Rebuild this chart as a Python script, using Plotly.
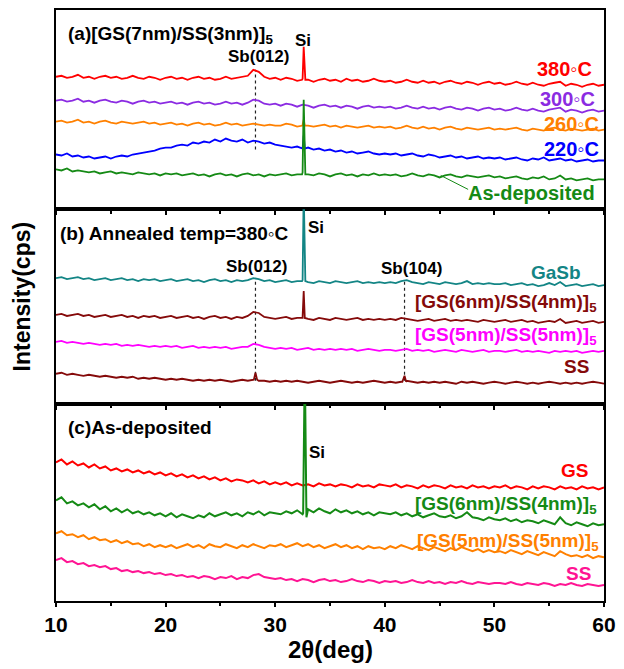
import plotly.graph_objects as go
from plotly.subplots import make_subplots

# 2-theta sampling grid (deg)
TWO_THETA = [10 + 0.5 * i for i in range(101)]

# ---------------- Panel (a): [GS(7nm)/SS(3nm)]5 at several anneal temps ----------------
a_380 = [133,134,132,133,135,132,133,131,133,134,132,133,131,132,134,132,131,133,132,130,132,
         133,131,132,130,132,133,131,132,130,131,133,131,132,133,134,140,138,133,131,132,
         130,132,131,129,131,130,128,130,131,129,130,128,131,129,130,128,129,131,129,128,
         129,127,128,130,128,127,129,127,128,126,128,129,127,126,128,127,125,127,128,126,
         127,125,126,128,126,125,127,125,124,126,127,128,124,126,125,123,125,126,124,125]
a_380_pk_x = [32.45, 32.6, 32.75]
a_380_pk_y = [130, 163, 130]

a_300 = [109,110,108,109,111,108,109,107,109,110,108,107,109,108,106,108,109,107,108,106,107,
         108,106,107,105,107,108,106,107,105,106,108,106,107,105,107,110,109,106,105,106,
         104,106,105,103,105,104,102,104,105,103,104,102,104,103,101,103,104,102,103,102,
         103,101,102,104,102,101,103,101,102,100,102,103,101,100,102,101,99,101,102,100,
         101,99,100,102,100,99,101,99,98,100,101,102,98,100,99,97,99,100,98,99]
a_300_pk_x = []
a_300_pk_y = []

a_260 = [88,89,87,88,90,87,88,86,88,89,87,86,88,87,86,87,88,86,87,85,86,
         87,85,86,84,86,87,85,86,84,85,87,85,86,84,85,86,85,84,85,84,
         84,86,85,83,85,84,83,84,85,83,84,82,84,83,82,83,84,82,83,82,
         83,81,82,84,82,81,83,81,82,80,82,83,81,80,82,81,80,81,82,80,
         81,80,81,82,80,79,81,80,79,81,82,80,79,81,80,79,80,81,79,80]
a_260_pk_x = [32.5, 32.6, 32.7]
a_260_pk_y = [84, 90, 84]

a_220 = [55,54,56,53,54,52,53,51,52,53,51,53,54,53,55,56,57,58,59,61,62,
         62,64,65,64,67,66,68,67,70,68,71,69,68,70,67,69,68,66,67,65,
         64,63,62,63,61,62,60,61,59,60,58,59,57,58,56,57,58,56,55,56,
         55,56,54,55,56,54,53,55,54,52,53,54,52,53,51,52,53,51,52,51,
         52,50,51,52,50,49,51,50,52,49,50,51,49,50,48,49,50,48,49,49]
a_220_pk_x = [32.5, 32.6, 32.7]
a_220_pk_y = [61, 74, 61]

a_asdep = [40,39,41,38,39,38,37,38,36,37,38,36,37,36,35,37,36,35,36,34,36,
           35,36,34,35,36,34,35,33,35,36,34,35,33,35,36,34,35,33,35,34,
           35,36,34,35,37,35,34,36,35,33,35,36,34,35,33,35,34,36,34,35,
           34,35,33,34,36,34,33,35,34,32,34,35,33,32,34,33,32,33,34,32,
           33,31,32,33,31,30,32,31,33,30,31,34,30,31,29,30,31,29,30,30]
a_asdep_pk_x = [32.45, 32.6, 32.75]
a_asdep_pk_y = [35, 110, 35]

# ---------------- Panel (b): annealed at 380 C ----------------
b_gasb = [126,127,125,126,127,125,126,124,125,126,124,125,126,124,125,123,125,124,125,123,124,
          125,123,124,125,123,124,122,124,125,123,124,122,124,123,124,126,125,123,124,122,
          123,124,122,123,124,122,121,123,122,121,123,122,121,122,123,121,122,121,122,121,
          122,121,123,124,122,121,120,122,121,120,122,121,120,121,123,120,121,120,121,120,
          120,121,119,120,121,119,120,118,119,121,119,122,118,119,120,118,119,120,118,119]
b_gasb_pk_x = [32.45, 32.6, 32.75]
b_gasb_pk_y = [123, 215, 123]

b_64 = [89,90,88,89,90,88,89,87,88,89,87,88,89,87,88,86,88,87,88,86,87,
        88,86,87,88,86,87,85,87,88,86,87,85,87,86,88,92,91,87,86,85,
        86,87,85,86,87,85,84,86,85,84,86,85,84,85,86,84,85,84,85,84,
        85,84,86,85,84,83,84,85,83,84,85,83,84,83,84,83,82,84,83,82,
        83,84,82,83,84,82,83,81,82,83,82,85,81,82,83,81,82,83,81,82]
b_64_pk_x = [32.5, 32.6, 32.7]
b_64_pk_y = [86, 113, 86]

b_55 = [62,63,61,62,61,60,61,60,59,60,59,60,58,59,58,59,58,57,58,57,58,
        57,58,56,57,58,56,57,56,57,56,57,55,56,57,57,60,59,57,56,55,
        56,55,56,54,55,56,54,55,54,55,54,55,54,55,53,54,55,54,53,54,
        54,53,54,55,53,54,53,54,52,53,54,53,52,54,53,52,53,54,52,53,
        53,52,53,54,52,53,52,53,52,51,53,52,53,52,53,51,52,53,52,53]
b_55_pk_x = []
b_55_pk_y = []

b_ss = [30,31,29,30,29,28,29,28,27,28,27,26,27,26,27,25,26,25,26,25,24,
        25,24,25,24,23,24,23,24,23,24,23,22,23,24,23,24,23,23,22,23,
        22,23,22,23,22,21,22,23,22,21,22,23,22,21,22,21,22,23,22,21,
        22,21,22,23,22,21,22,21,22,21,22,21,20,22,21,22,21,20,21,22,
        21,20,21,22,21,20,21,20,21,22,21,20,21,20,21,20,21,22,21,20]
b_ss_pk_x = [28.05, 28.2, 28.35, 41.6, 41.8, 41.95]
b_ss_pk_y = [24, 31, 24, 22, 28, 22]

# ---------------- Panel (c): as-deposited ----------------
c_gs = [139,142,137,140,136,138,134,137,133,135,131,133,130,132,129,131,128,130,127,129,126,
        128,125,127,124,126,123,125,122,124,121,123,120,122,121,119,121,118,120,117,119,
        117,119,116,118,116,117,115,118,116,117,115,117,116,114,117,115,116,114,117,116,
        115,117,114,116,115,113,116,114,116,115,113,116,114,115,113,116,114,115,113,115,
        114,116,113,115,114,112,115,113,115,114,112,115,113,114,112,115,113,114,112,114]
c_gs_pk_x = []
c_gs_pk_y = []

c_64 = [101,104,98,100,96,98,94,97,92,95,90,93,89,92,88,90,87,89,86,88,85,
        88,84,87,85,83,86,84,88,85,87,89,86,88,85,89,87,90,86,89,88,
        87,90,88,91,87,92,89,93,90,88,92,89,91,88,90,87,89,86,89,88,
        87,89,86,88,85,87,84,86,88,85,84,86,83,85,89,84,83,81,84,82,
        81,83,80,82,79,81,80,78,81,79,77,84,78,76,79,77,75,78,76,77]
c_64_pk_x = [32.55, 32.7, 32.85]
c_64_pk_y = [88, 240, 84]

c_55 = [68,70,66,67,64,66,62,64,61,62,59,61,58,60,57,58,55,57,54,56,54,
        56,53,55,57,54,56,53,57,55,54,57,55,53,56,54,57,55,53,56,55,
        57,54,56,58,55,57,54,56,53,55,57,54,56,53,55,52,55,53,54,52,
        55,53,56,54,52,55,53,51,54,52,50,53,51,54,52,50,52,49,51,49,
        50,48,51,49,47,50,48,46,49,47,45,50,47,45,46,44,46,43,45,44]
c_55_pk_x = []
c_55_pk_y = []

c_ss = [41,43,39,40,37,38,35,36,34,35,32,33,30,31,29,30,28,29,27,28,26,
        27,25,26,24,25,23,25,24,22,24,23,25,22,24,23,26,27,24,23,22,
        23,21,22,20,22,21,19,21,22,20,21,19,20,22,20,19,21,20,18,20,
        19,20,18,19,21,19,18,20,18,19,17,19,18,20,18,17,19,18,17,18,
        18,17,19,17,16,18,17,16,18,17,15,17,16,18,16,15,17,16,15,16]
c_ss_pk_x = []
c_ss_pk_y = []

# reflection positions (deg) and dotted guide spans
SB012 = 28.2
SB104 = 41.8
guide_a_y = [60, 140]
guide_b_y = [23, 125]

FONT = "Liberation Sans, Arial, sans-serif"
RED, PURPLE, ORANGE, BLUE, GREEN = "#FF0000", "#8B2BE2", "#FF8000", "#0000FF", "#158A15"
TEAL, DKRED, MAGENTA, PINK = "#138585", "#850A0A", "#FF00FF", "#FF1493"

traces = [
    (1, a_380, a_380_pk_x, a_380_pk_y, RED),
    (1, a_300, a_300_pk_x, a_300_pk_y, PURPLE),
    (1, a_260, a_260_pk_x, a_260_pk_y, ORANGE),
    (1, a_220, a_220_pk_x, a_220_pk_y, BLUE),
    (1, a_asdep, a_asdep_pk_x, a_asdep_pk_y, GREEN),
    (2, b_gasb, b_gasb_pk_x, b_gasb_pk_y, TEAL),
    (2, b_64, b_64_pk_x, b_64_pk_y, DKRED),
    (2, b_55, b_55_pk_x, b_55_pk_y, MAGENTA),
    (2, b_ss, b_ss_pk_x, b_ss_pk_y, DKRED),
    (3, c_gs, c_gs_pk_x, c_gs_pk_y, RED),
    (3, c_64, c_64_pk_x, c_64_pk_y, GREEN),
    (3, c_55, c_55_pk_x, c_55_pk_y, ORANGE),
    (3, c_ss, c_ss_pk_x, c_ss_pk_y, PINK),
]


def merged(vals, px, py):
    pts = sorted(list(zip(TWO_THETA, vals)) + list(zip(px, py)))
    return [p[0] for p in pts], [p[1] for p in pts]


fig = make_subplots(rows=3, cols=1, shared_xaxes=True, vertical_spacing=0)

# dotted guides
for row, xv, ys in [(1, SB012, guide_a_y), (2, SB012, guide_b_y), (2, SB104, guide_b_y)]:
    fig.add_trace(go.Scatter(x=[xv, xv], y=ys, mode="lines",
                             line=dict(color="#222222", width=1.2, dash="dot"),
                             hoverinfo="skip", showlegend=False), row=row, col=1)

for row, vals, px, py, col in traces:
    xs, ys = merged(vals, px, py)
    fig.add_trace(go.Scatter(x=xs, y=ys, mode="lines",
                             line=dict(color=col, width=1.8 if row < 3 else 2.0),
                             showlegend=False), row=row, col=1)

# connector for "As-deposited" label
fig.add_trace(go.Scatter(x=[45.1, 47.6], y=[34, 20], mode="lines",
                         line=dict(color=GREEN, width=1), showlegend=False), row=1, col=1)

H = 593.0
domains = {1: [393 / H, 1.0], 2: [198 / H, 393 / H], 3: [0.0, 198 / H]}
yranges = {1: [0, 200], 2: [0, 195], 3: [0, 198]}
for r in (1, 2, 3):
    sfx = "" if r == 1 else str(r)
    fig.layout["yaxis" + sfx].update(domain=domains[r], range=yranges[r], showline=True,
                                     linecolor="black", linewidth=2, mirror=True,
                                     showticklabels=False, ticks="", showgrid=False,
                                     zeroline=False, fixedrange=True)
    fig.layout["xaxis" + sfx].update(range=[10, 60], showline=True, linecolor="black",
                                     linewidth=2, mirror=True, ticks="outside", ticklen=4,
                                     tickwidth=2, tickcolor="black", tick0=10, dtick=10,
                                     minor=dict(dtick=5, ticks="outside", ticklen=2.5,
                                                tickwidth=2, tickcolor="black"),
                                     showgrid=False, zeroline=False,
                                     showticklabels=(r == 3),
                                     tickfont=dict(family=FONT, size=21, color="black",
                                                   weight="bold"))

DEG = "\u25e6"
ann = []


def lab(text, x, y, yref, color="black", size=19, xanchor="center"):
    xref = {"y": "x", "y2": "x2", "y3": "x3"}[yref]
    ann.append(dict(text="<b>" + text + "</b>", x=x, y=y, xref=xref, yref=yref,
                    showarrow=False, xanchor=xanchor, yanchor="middle",
                    font=dict(family=FONT, size=size, color=color)))


# panel a
lab("(a)[GS(7nm)/SS(3nm)]<sub>5</sub>", 10.9, 175, "y", size=19, xanchor="left")
lab("Sb(012)", 28.5, 153, "y", size=17)
lab("Si", 32.56, 169, "y", size=17)
lab("380" + DEG + "C", 59.1, 141, "y", RED, 20, "right")
lab("300" + DEG + "C", 59.4, 111, "y", PURPLE, 20, "right")
lab("260" + DEG + "C", 59.7, 86, "y", ORANGE, 20, "right")
lab("220" + DEG + "C", 59.7, 61, "y", BLUE, 20, "right")
lab("As-deposited", 59.4, 16, "y", GREEN, 20, "right")
# panel b
lab("(b) Annealed temp=380" + DEG + "C", 10.2, 171, "y2", size=19, xanchor="left")
lab("Si", 32.8, 177, "y2", size=17, xanchor="left")
lab("Sb(012)", 28.3, 138, "y2", size=17)
lab("Sb(104)", 42.4, 136, "y2", size=17)
lab("GaSb", 58.1, 132, "y2", TEAL, 19, "right")
lab("[GS(6nm)/SS(4nm)]<sub>5</sub>", 59.5, 101, "y2", DKRED, 19, "right")
lab("[GS(5nm)/SS(5nm)]<sub>5</sub>", 59.5, 68, "y2", MAGENTA, 19, "right")
lab("SS", 58.8, 37, "y2", DKRED, 19, "right")
# panel c
lab("(c)As-deposited", 10.9, 174, "y3", size=19, xanchor="left")
lab("Si", 33.8, 149, "y3", size=17)
lab("GS", 58.7, 131, "y3", RED, 19, "right")
lab("[GS(6nm)/SS(4nm)]<sub>5</sub>", 59.5, 96, "y3", GREEN, 19, "right")
lab("[GS(5nm)/SS(5nm)]<sub>5</sub>", 59.7, 59, "y3", ORANGE, 19, "right")
lab("SS", 59.0, 28, "y3", PINK, 19, "right")

# axis titles
ann.append(dict(text="<b>Intensity(cps)</b>", x=-0.0614, y=0.516, xref="paper", yref="paper",
                textangle=-90, showarrow=False, xanchor="center", yanchor="middle",
                font=dict(family=FONT, size=23, color="black")))
ann.append(dict(text="<b>2\u03b8(deg)</b>", x=0.5, y=-0.0826, xref="paper", yref="paper",
                showarrow=False, xanchor="center", yanchor="middle",
                font=dict(family=FONT, size=24, color="black")))

fig.update_layout(width=624, height=669, margin=dict(l=56, r=14, t=8, b=68),
                  paper_bgcolor="white", plot_bgcolor="white", annotations=ann,
                  showlegend=False)

fig.write_html("out.html")
